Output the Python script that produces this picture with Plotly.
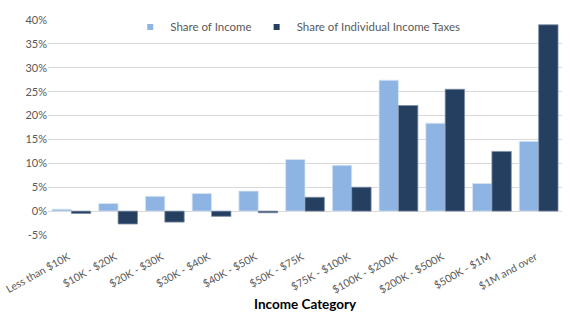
import plotly.graph_objects as go

categories = ["Less than $10K", "$10K - $20K", "$20K - $30K", "$30K - $40K", "$40K - $50K",
              "$50K - $75K", "$75K - $100K", "$100K - $200K", "$200K - $500K", "$500K - $1M",
              "$1M and over"]
share_income = [0.4, 1.6, 3.1, 3.7, 4.2, 10.8, 9.6, 27.4, 18.4, 5.8, 14.6]
share_taxes = [-0.5, -2.7, -2.3, -1.1, -0.35, 2.9, 5.0, 22.1, 25.5, 12.5, 39.0]
y_ticks = [-5, 0, 5, 10, 15, 20, 25, 30, 35, 40]
series_names = ["Share of Income", "Share of Individual Income Taxes"]
colors = ["#8EB4E3", "#243F60"]
x_title = "Income Category"

FONT = "Lato, 'Open Sans', sans-serif"

fig = go.Figure()
fig.add_trace(go.Bar(x=categories, y=share_income, name=series_names[0], showlegend=False,
                     legendgroup="a",
                     marker=dict(color=colors[0], line=dict(color="#DCE6F2", width=0.8))))
fig.add_trace(go.Bar(x=categories, y=share_taxes, name=series_names[1], showlegend=False,
                     legendgroup="b",
                     marker=dict(color=colors[1], line=dict(color="#7F8FA6", width=0.8))))
# legend entries with small square symbols, as in the reference
for name, c, g in zip(series_names, colors, ["a", "b"]):
    fig.add_trace(go.Scatter(x=[None], y=[None], mode="markers", name=name, legendgroup=g,
                             marker=dict(symbol="square", size=6, color=c)))

fig.update_layout(
    width=575, height=323,
    margin=dict(l=48, r=13, t=16, b=88),
    paper_bgcolor="white", plot_bgcolor="white",
    barmode="group", bargap=0.17, bargroupgap=0,
    font=dict(family=FONT, color="#595959", size=11),
    legend=dict(orientation="h", x=0.16, y=1.035, xanchor="left", yanchor="top",
                font=dict(size=11.5, color="#595959"), bgcolor="rgba(0,0,0,0)",
                itemwidth=30, traceorder="normal", tracegroupgap=0),
    xaxis=dict(tickangle=-29, showgrid=False, showline=False, ticks="", automargin=False,
               ticklabelstandoff=13, ticklabelshift=-3,
               tickfont=dict(size=10.5, color="#595959")),
    yaxis=dict(range=[-5, 40], tickvals=y_ticks, ticktext=[f"{v}%" for v in y_ticks],
               showgrid=True, gridcolor="#D9D9D9", gridwidth=1, zeroline=False, automargin=False,
               showline=False, ticks="", tickfont=dict(size=11, color="#595959")),
    annotations=[dict(text=f"<b>{x_title}</b>", xref="paper", yref="paper", x=0.5, y=0,
                      yshift=-69, xanchor="center", yanchor="middle", showarrow=False,
                      font=dict(size=13.5, color="black", family=FONT))],
)

fig.write_html("out.html")
